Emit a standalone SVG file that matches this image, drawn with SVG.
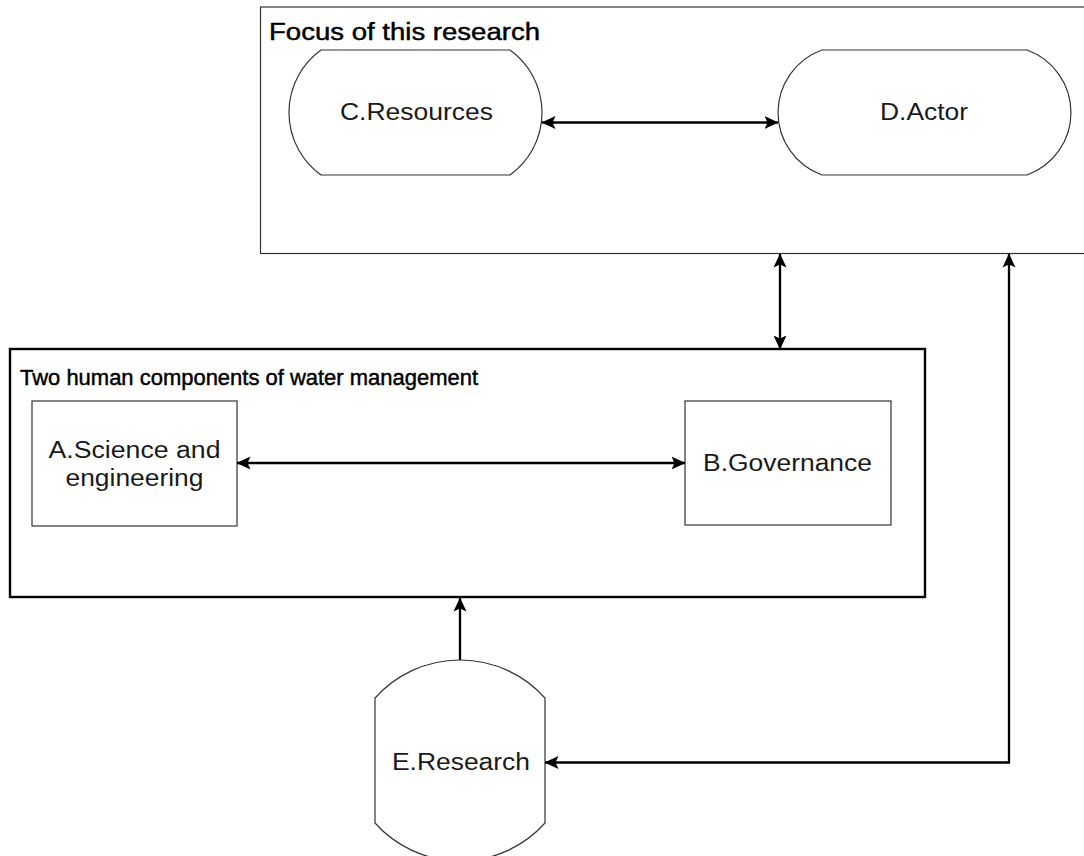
<svg xmlns="http://www.w3.org/2000/svg" width="1084" height="856" viewBox="0 0 1084 856">
  <style>
    .frame-thin { fill: #fff; stroke: #333; stroke-width: 1.2; }
    .frame-thick { fill: #fff; stroke: #000; stroke-width: 2.4; }
    .shape { fill: #fff; stroke: #333; stroke-width: 1.2; }
    .title { font-family: "Liberation Sans", Arial, sans-serif; fill: #000; stroke: #000; stroke-width: 0.45; }
    .label { font-family: "Liberation Sans", Arial, sans-serif; font-size: 23px; fill: #1a1a1a; text-anchor: middle; }
    .conn { fill: none; stroke: #000; stroke-width: 2.3; }
  </style>
  <defs>
    <marker id="arrow" markerUnits="userSpaceOnUse" markerWidth="14" markerHeight="14" viewBox="0 0 14 14" refX="13.5" refY="7" orient="auto-start-reverse">
      <path d="M0,0.5 L14,7 L0,13.5 L3,7 Z" fill="#000"/>
    </marker>
  </defs>
  <rect width="1084" height="856" fill="#fff"/>

  <!-- upper frame: focus of the study -->
  <g id="focus-frame">
    <rect class="frame-thin" x="260.5" y="7" width="840" height="246.5"/>
    <text class="title" x="269" y="40" font-size="23" textLength="271" lengthAdjust="spacingAndGlyphs">Focus of this research</text>
  </g>

  <!-- lower frame: human components -->
  <g id="human-frame">
    <rect class="frame-thick" x="10" y="349" width="915" height="248"/>
    <text class="title" x="20" y="385" font-size="22" textLength="458" lengthAdjust="spacingAndGlyphs">Two human components of water management</text>
  </g>

  <g id="node-c">
    <path class="shape" d="M321,50 L510,50 A77,77 0 0 1 510,175 L321,175 A77,77 0 0 1 321,50 Z"/>
    <text class="label" x="416.5" y="120" textLength="153" lengthAdjust="spacingAndGlyphs">C.Resources</text>
  </g>

  <g id="node-d">
    <path class="shape" d="M822,50 L1027,50 A66.4,66.4 0 0 1 1027,175 L822,175 A66.4,66.4 0 0 1 822,50 Z"/>
    <text class="label" x="924" y="120" textLength="88" lengthAdjust="spacingAndGlyphs">D.Actor</text>
  </g>

  <g id="node-a">
    <rect class="shape" x="32" y="401" width="205" height="125"/>
    <text class="label" x="134.5" y="458" textLength="172" lengthAdjust="spacingAndGlyphs">A.Science and</text>
    <text class="label" x="134.5" y="486" textLength="138" lengthAdjust="spacingAndGlyphs">engineering</text>
  </g>

  <g id="node-b">
    <rect class="shape" x="685" y="401" width="206" height="124"/>
    <text class="label" x="787.5" y="471" textLength="169" lengthAdjust="spacingAndGlyphs">B.Governance</text>
  </g>

  <g id="node-e">
    <path class="shape" d="M375,698 A114.1,114.1 0 0 1 545,698 L545,823 A114.1,114.1 0 0 1 375,823 Z"/>
    <text class="label" x="461" y="770" textLength="138" lengthAdjust="spacingAndGlyphs">E.Research</text>
  </g>

  <g id="connectors">
    <line class="conn" x1="542" y1="122.5" x2="778" y2="122.5" marker-start="url(#arrow)" marker-end="url(#arrow)"/>
    <line class="conn" x1="780" y1="254" x2="780" y2="349" marker-start="url(#arrow)" marker-end="url(#arrow)"/>
    <line class="conn" x1="237" y1="463" x2="685" y2="463" marker-start="url(#arrow)" marker-end="url(#arrow)"/>
    <line class="conn" x1="460" y1="660" x2="460" y2="598" marker-end="url(#arrow)"/>
    <path class="conn" d="M545,762.5 L1009,762.5 L1009,254" marker-start="url(#arrow)" marker-end="url(#arrow)"/>
  </g>
</svg>
